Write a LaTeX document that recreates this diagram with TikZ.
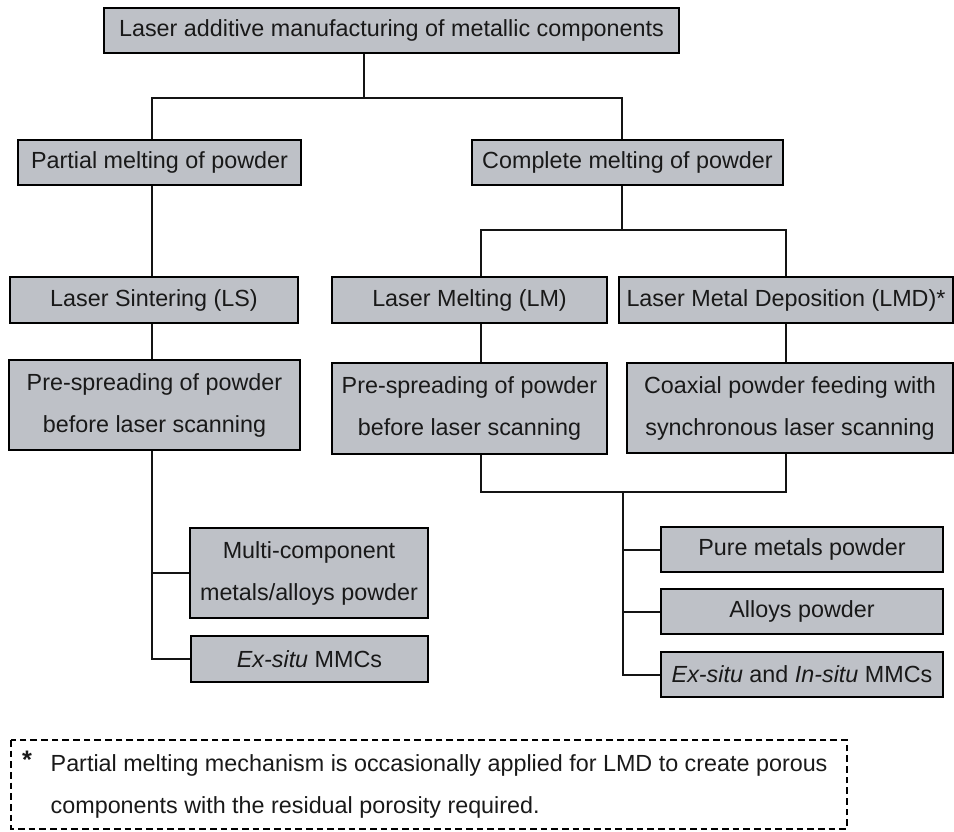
\documentclass[tikz,border=0pt]{standalone}
\usepackage{fontspec}
\setmainfont{Liberation Sans}
\begin{document}
\begin{tikzpicture}[x=0.75pt, y=-0.75pt,
  every node/.style={font=\fontsize{17.5}{31.5}\selectfont, text=black!90},
  box/.style args={#1x#2}{draw=black, line width=1.6pt, fill=boxgray, inner sep=0pt,
    align=center, minimum width=#1*0.75pt, minimum height=#2*0.75pt},
  link/.style={line width=1.5pt, draw=black!92}]
\definecolor{boxgray}{RGB}{190,193,199}
\useasboundingbox (0,0) rectangle (954,832);

% boxes
\node[box=575x45] (top) at (391.5,30.5) {Laser additive manufacturing of metallic components};
\node[box=283x45] (partial) at (159.5,162.5) {Partial melting of powder};
\node[box=311x45] (complete) at (627.5,162.5) {Complete melting of powder};
\node[box=288x46] (ls) at (154,300) {Laser Sintering (LS)};
\node[box=275x46] (lm) at (469.5,300) {Laser Melting (LM)};
\node[box=334x46] (lmd) at (786,300) {Laser Metal Deposition (LMD)*};
\node[box=291x90] (lspre) at (154.5,405) {Pre-spreading of powder\\before laser scanning};
\node[box=275x91] (lmpre) at (469.5,408.5) {Pre-spreading of powder\\before laser scanning};
\node[box=326x90] (coax) at (790,408) {Coaxial powder feeding with\\synchronous laser scanning};
\node[box=238x90] (multi) at (309,573) {Multi-component\\metals/alloys powder};
\node[box=237x46] (exsitu) at (309.5,659) {\textit{Ex-situ} MMCs};
\node[box=282x45] (pure) at (802,549.5) {Pure metals powder};
\node[box=282x45] (alloys) at (802,611.5) {Alloys powder};
\node[box=282x45] (exin) at (802,674.5) {\textit{Ex-situ} and \textit{In-situ} MMCs};

% junction points of the tree
\coordinate (j0) at (364,98);
\coordinate (j1l) at (152,98);
\coordinate (j1r) at (622,98);
\coordinate (j2l) at (481,230);
\coordinate (j2r) at (786,230);
\coordinate (j3) at (623,492);

% connectors
\draw[link] (top.south -| j0) -- (j0);
\draw[link] (partial.north -| j1l) |- (j1r) -- (complete.north -| j1r);
\draw[link] (partial.south -| j1l) -- (ls.north -| j1l);
\draw[link] (complete.south -| j1r) -- (j1r |- j2l);
\draw[link] (lm.north -| j2l) |- (j2r) -- (lmd.north -| j2r);
\draw[link] (ls.south -| j1l) -- (lspre.north -| j1l);
\draw[link] (lm.south -| j2l) -- (lmpre.north -| j2l);
\draw[link] (lmd.south -| j2r) -- (coax.north -| j2r);
\draw[link] (lspre.south -| j1l) |- (exsitu.west);
\draw[link] (multi.west) -- (multi.west -| j1l);
\draw[link] (lmpre.south -| j2l) -- (j2l |- j3) -- (j2r |- j3) -- (coax.south -| j2r);
\draw[link] (j3) |- (exin.west);
\draw[link] (pure.west) -- (pure.west -| j3);
\draw[link] (alloys.west) -- (alloys.west -| j3);

% footnote
\draw[line width=1.5pt, dash pattern=on 5pt off 3pt] (11,740) rectangle (847,829);
\node[anchor=base, font=\fontsize{19}{31.5}\selectfont\bfseries] (star) at (27,768) {*};
\node[anchor=west, align=left] (note) at (46,786)
  {Partial melting mechanism is occasionally applied for LMD to create porous\\
   components with the residual porosity required.};
\end{tikzpicture}
\end{document}
